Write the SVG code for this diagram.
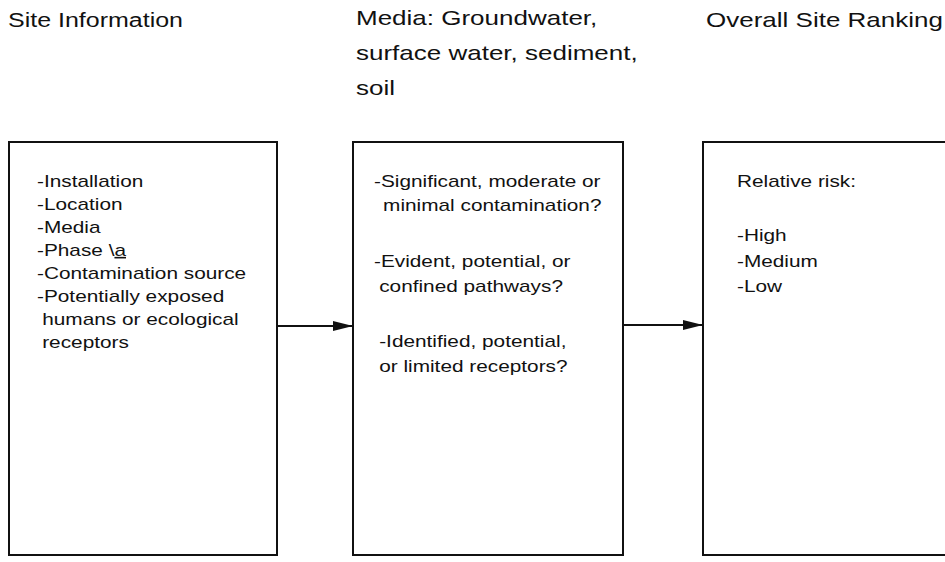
<svg xmlns="http://www.w3.org/2000/svg" width="945" height="562" viewBox="0 0 945 562">
<style>
.t{font-family:"Liberation Sans",Arial,sans-serif;font-size:16px;fill:#111}
.h{font-family:"Liberation Sans",Arial,sans-serif;font-size:20px;fill:#111}
.box{fill:#fff;stroke:#111;stroke-width:2}
.c{stroke:#111;stroke-width:2.2;fill:none}
</style>
<defs>
<marker id="arr" viewBox="0 0 20 10" refX="20" refY="5" markerWidth="20" markerHeight="10" markerUnits="userSpaceOnUse" orient="auto">
<path d="M0,0 L20,5 L0,10 z" fill="#111"/>
</marker>
</defs>
<rect width="945" height="562" fill="#fff"/>
<g id="headers">
<g transform="translate(8,27) scale(1.25,1)"><text class="h" x="0" y="0">Site Information</text></g>
<g transform="translate(356,0) scale(1.3,1)">
<text class="h" x="0" y="25">Media: Groundwater,</text>
<text class="h" x="0" y="60">surface water, sediment,</text>
<text class="h" x="0" y="95">soil</text>
</g>
<g transform="translate(706,27) scale(1.3,1)"><text class="h" x="0" y="0">Overall Site Ranking</text></g>
</g>
<g id="connectors">
<line class="c" x1="278" y1="326" x2="353" y2="326" marker-end="url(#arr)"/>
<line class="c" x1="623" y1="325" x2="703" y2="325" marker-end="url(#arr)"/>
</g>
<g id="site-info">
<rect class="box" x="9" y="142" width="268" height="413"/>
<g transform="translate(37,0) scale(1.3,1)">
<text class="t" x="0" y="187">-Installation</text>
<text class="t" x="0" y="210">-Location</text>
<text class="t" x="0" y="233">-Media</text>
<text class="t" x="0" y="256">-Phase \<tspan text-decoration="underline">a</tspan></text>
<text class="t" x="0" y="279">-Contamination source</text>
<text class="t" x="0" y="302">-Potentially exposed</text>
<text class="t" x="4" y="325">humans or ecological</text>
<text class="t" x="4" y="348">receptors</text>
</g>
</g>
<g id="media">
<rect class="box" x="353" y="142" width="270" height="413"/>
<g transform="translate(374,0) scale(1.3,1)">
<text class="t" x="0" y="187">-Significant, moderate or</text>
<text class="t" x="7" y="211">minimal contamination?</text>
<text class="t" x="0" y="267">-Evident, potential, or</text>
<text class="t" x="4" y="292">confined pathways?</text>
<text class="t" x="4" y="347">-Identified, potential,</text>
<text class="t" x="4" y="372">or limited receptors?</text>
</g>
</g>
<g id="ranking">
<rect class="box" x="703" y="142" width="260" height="413"/>
<g transform="translate(737,0) scale(1.3,1)">
<text class="t" x="0" y="187">Relative risk:</text>
<text class="t" x="0" y="241">-High</text>
<text class="t" x="0" y="267">-Medium</text>
<text class="t" x="0" y="292">-Low</text>
</g>
</g>
</svg>
